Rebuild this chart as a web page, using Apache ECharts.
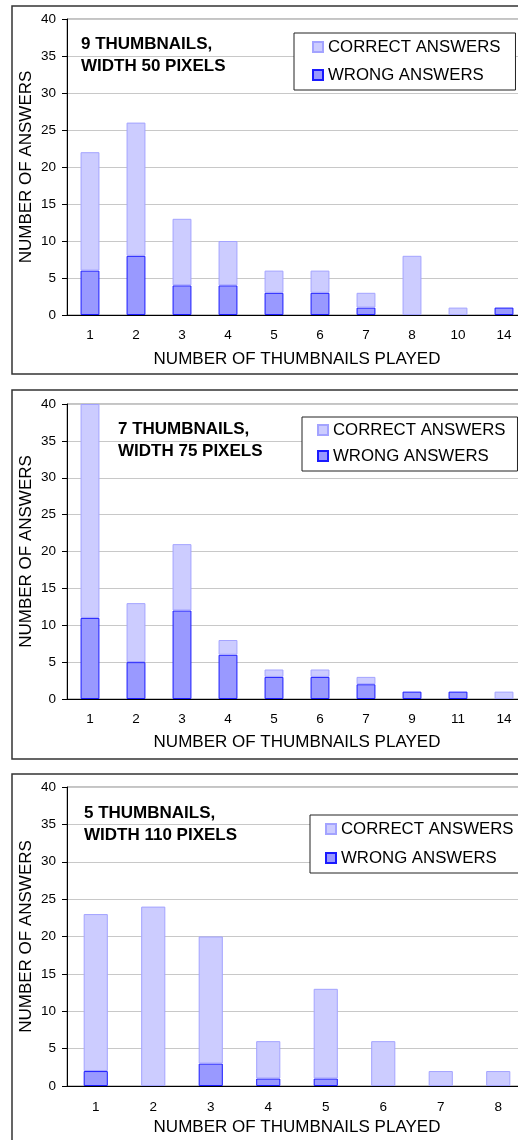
<!DOCTYPE html>
<html><head><meta charset="utf-8">
<script src="https://cdn.jsdelivr.net/npm/echarts@6/dist/echarts.min.js"></script>
<style>html,body{margin:0;padding:0;background:#fff}#c{width:518px;height:1140px}</style>
</head><body><div id="c"></div>
<script>
// ---- data ----
const cats1 = ['1','2','3','4','5','6','7','8','10','14'];
const correct1 = [16,18,9,6,3,3,2,8,1,0];
const wrong1 = [6,8,4,4,3,3,1,0,0,1];

const cats2 = ['1','2','3','4','5','6','7','9','11','14'];
const correct2 = [29,8,9,2,1,1,1,0,0,1];
const wrong2 = [11,5,12,6,3,3,2,1,1,0];

const cats3 = ['1','2','3','4','5','6','7','8'];
const correct3 = [21,24,17,5,12,6,2,2];
const wrong3 = [2,0,3,1,1,0,0,0];

const panelTitles = ['9 THUMBNAILS,\nWIDTH 50 PIXELS','7 THUMBNAILS,\nWIDTH 75 PIXELS','5 THUMBNAILS,\nWIDTH 110 PIXELS'];
const yName = 'NUMBER OF ANSWERS';
const xName = 'NUMBER OF THUMBNAILS PLAYED';
const nameCorrect = 'CORRECT ANSWERS';
const nameWrong = 'WRONG ANSWERS';
const yMin = 0, yMax = 40, yStep = 5;

// ---- layout ----
const FONT = '"Liberation Sans", Arial, sans-serif';
const panels = [
  {cats: cats1, correct: correct1, wrong: wrong1, grid:{left:67, top:19, width:460, height:296},
   title:{left:81, top:33}, legend:{left:294, top:33, padding:[5,15,6,18], itemGap:10},
   box:{x:12, y:6, h:368}, xNameGap:36, xLabelMargin:13, barWidth:'41%'},
  {cats: cats2, correct: correct2, wrong: wrong2, grid:{left:67, top:404, width:460, height:295},
   title:{left:118, top:418}, legend:{left:302, top:417, padding:[4,12,6,15], itemGap:8},
   box:{x:12, y:390, h:369}, xNameGap:35, xLabelMargin:13, barWidth:'41%'},
  {cats: cats3, correct: correct3, wrong: wrong3, grid:{left:67, top:787, width:460, height:299},
   title:{left:84, top:802}, legend:{left:310, top:815, padding:[5,15,6,15], itemGap:11},
   box:{x:12, y:774, h:400}, xNameGap:33, xLabelMargin:14, barWidth:'42%'}
];

const nz = arr => arr.map(v => v === 0 ? '-' : v);

const option = {
  animation: false,
  backgroundColor: '#fff',
  textStyle: {fontFamily: FONT},
  title: [], legend: [], grid: [], xAxis: [], yAxis: [], series: [], graphic: []
};

panels.forEach((p, i) => {
  option.title.push({
    text: panelTitles[i], left: p.title.left, top: p.title.top, padding: 0,
    textStyle: {fontFamily: FONT, fontSize: 17, fontWeight: 'bold', color: '#000', lineHeight: 22.5}
  });
  option.legend.push({
    data: [nameCorrect, nameWrong], orient: 'vertical',
    left: p.legend.left, top: p.legend.top, padding: p.legend.padding, itemGap: p.legend.itemGap,
    itemWidth: 10, itemHeight: 10, icon: 'rect',
    borderColor: '#222', borderWidth: 1, backgroundColor: '#fff',
    textStyle: {fontFamily: FONT, fontSize: 16.8, color: '#000', lineHeight: 18},
    selectedMode: false
  });
  option.grid.push(Object.assign({show: true, borderColor: '#888', borderWidth: 1,
    backgroundColor: 'transparent', outerBoundsMode: 'none', containLabel: false}, p.grid));
  option.xAxis.push({
    type: 'category', gridIndex: i, data: p.cats,
    name: xName, nameLocation: 'middle', nameGap: p.xNameGap, nameMoveOverlap: false,
    nameTextStyle: {fontFamily: FONT, fontSize: 17, color: '#000'},
    axisLine: {lineStyle: {color: '#000', width: 1}},
    axisTick: {length: 4, lineStyle: {color: '#000'}},
    axisLabel: {fontFamily: FONT, fontSize: 13.5, color: '#000', margin: p.xLabelMargin},
    splitLine: {show: false}
  });
  option.yAxis.push({
    type: 'value', gridIndex: i, min: yMin, max: yMax, interval: yStep,
    name: yName, nameLocation: 'middle', nameGap: 32, nameMoveOverlap: false,
    nameTextStyle: {fontFamily: FONT, fontSize: 17, color: '#000'},
    axisLine: {show: true, lineStyle: {color: '#000', width: 1}},
    axisTick: {show: true, length: 5, lineStyle: {color: '#000'}},
    axisLabel: {fontFamily: FONT, fontSize: 13.5, color: '#000', margin: 11},
    splitLine: {show: true, lineStyle: {color: '#c8c8c8', width: 1}}
  });
  option.series.push({
    name: nameWrong, type: 'bar', stack: 's' + i, xAxisIndex: i, yAxisIndex: i,
    data: nz(p.wrong), barWidth: p.barWidth,
    itemStyle: {color: '#9999ff', borderColor: '#1a1aff', borderWidth: 1}
  });
  option.series.push({
    name: nameCorrect, type: 'bar', stack: 's' + i, xAxisIndex: i, yAxisIndex: i,
    data: nz(p.correct), barWidth: p.barWidth,
    itemStyle: {color: '#ccccff', borderColor: '#a3a3ff', borderWidth: 1}
  });
  option.graphic.push({
    type: 'rect', silent: true, z: 100,
    shape: {x: p.box.x, y: p.box.y, width: 540, height: p.box.h},
    style: {fill: 'none', stroke: '#333', lineWidth: 1.5}
  });
});

const chart = echarts.init(document.getElementById('c'), null, {renderer: 'canvas'});
chart.setOption(option);
</script>
</body></html>
